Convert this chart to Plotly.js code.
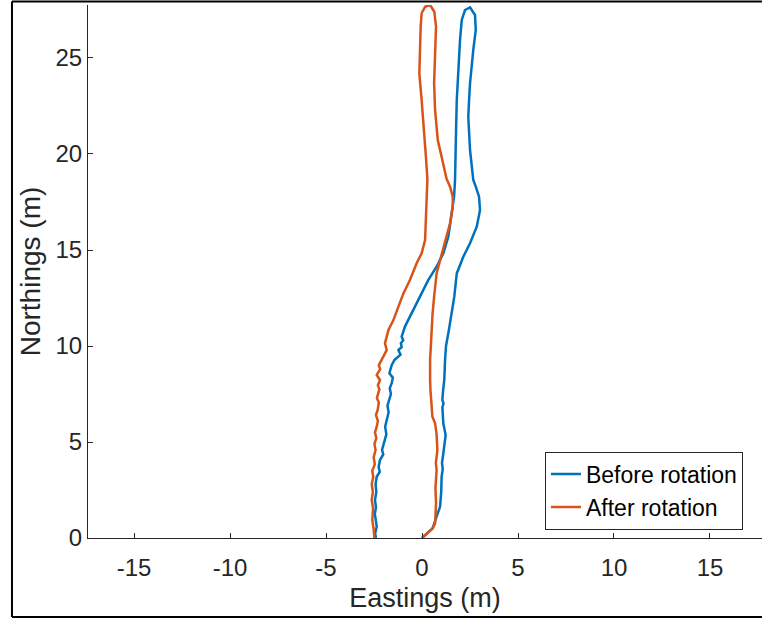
<!DOCTYPE html>
<html>
<head>
<meta charset="utf-8">
<script src="https://cdn.plot.ly/plotly-3.0.1.min.js"></script>
<style>
html,body{margin:0;padding:0;background:#fff;}
#chart{width:762px;height:623px;}
</style>
</head>
<body>
<div id="chart"></div>
<script>
// Before rotation (blue)
const beforeX = [0.00, 0.30, 0.55, 0.76, 0.94, 1.00, 1.02, 1.08, 1.04, 1.11, 1.18, 1.23, 1.11, 1.08, 1.06, 1.12, 1.06, 1.10, 1.16, 1.20, 1.25, 1.40, 1.55, 1.68, 1.81, 2.15, 2.50, 2.85, 3.02, 2.97, 2.80, 2.67, 2.50, 2.41, 2.45, 2.50, 2.67, 2.80, 2.76, 2.50, 2.24, 2.07, 1.98, 1.89, 1.81, 1.77, 1.75, 1.72, 1.67, 1.55, 1.37, 1.11, 0.76, 0.33, -0.02, -0.36, -0.63, -0.89, -1.06, -0.98, -1.10, -1.06, -1.23, -1.12, -1.44, -1.58, -1.70, -1.52, -1.58, -1.68, -1.62, -1.72, -1.80, -1.74, -1.84, -1.92, -1.86, -2.01, -2.08, -2.02, -2.19, -2.26, -2.20, -2.36, -2.42, -2.38, -2.45, -2.40, -2.46, -2.41, -2.36, -2.44, -2.40];
const beforeY = [0.00, 0.25, 0.50, 1.11, 1.63, 2.40, 3.19, 3.60, 3.90, 4.41, 4.90, 5.36, 5.97, 6.40, 6.80, 7.00, 7.19, 7.70, 8.23, 9.27, 10.00, 10.83, 11.70, 12.57, 13.78, 14.65, 15.35, 16.21, 17.08, 17.78, 18.30, 18.65, 20.21, 21.94, 22.80, 23.68, 25.42, 26.46, 27.24, 27.64, 27.50, 26.98, 25.94, 24.55, 22.81, 21.08, 19.69, 18.65, 17.78, 16.91, 15.69, 14.83, 14.13, 13.44, 12.74, 12.05, 11.53, 11.01, 10.49, 10.30, 10.14, 9.95, 9.79, 9.55, 9.27, 9.00, 8.58, 8.35, 8.06, 7.80, 7.50, 7.19, 6.90, 6.55, 6.15, 5.80, 5.40, 4.93, 4.60, 4.35, 4.06, 3.70, 3.45, 3.19, 2.80, 2.40, 1.98, 1.60, 1.25, 0.94, 0.60, 0.24, 0.00];

// After rotation (orange)
const afterX = [0.00, 0.30, 0.55, 0.68, 0.72, 0.73, 0.70, 0.76, 0.72, 0.74, 0.80, 0.76, 0.68, 0.54, 0.50, 0.47, 0.44, 0.42, 0.42, 0.46, 0.50, 0.55, 0.63, 0.70, 0.76, 0.99, 1.23, 1.46, 1.60, 1.60, 1.46, 1.28, 1.02, 0.82, 0.68, 0.63, 0.66, 0.68, 0.73, 0.64, 0.42, 0.16, -0.02, -0.07, -0.10, -0.14, -0.02, 0.10, 0.19, 0.28, 0.21, 0.16, -0.02, -0.28, -0.63, -0.97, -1.23, -1.49, -1.75, -1.84, -1.93, -1.84, -2.10, -2.25, -2.18, -2.36, -2.19, -2.30, -2.22, -2.27, -2.35, -2.25, -2.31, -2.40, -2.30, -2.36, -2.45, -2.38, -2.48, -2.42, -2.52, -2.46, -2.59, -2.54, -2.62, -2.56, -2.62, -2.55, -2.59, -2.52, -2.48];
const afterY = [0.00, 0.25, 0.50, 0.76, 1.30, 1.80, 2.60, 3.54, 3.90, 4.20, 4.58, 5.40, 5.97, 6.32, 6.80, 7.19, 7.70, 8.23, 9.27, 10.00, 10.83, 11.70, 12.57, 13.20, 13.78, 14.65, 15.52, 16.39, 17.26, 17.78, 18.30, 18.70, 19.86, 20.73, 22.29, 23.68, 24.60, 25.42, 26.63, 27.41, 27.76, 27.67, 27.33, 26.63, 25.42, 24.20, 22.81, 21.42, 20.03, 18.70, 16.91, 15.52, 14.83, 14.31, 13.44, 12.74, 12.05, 11.35, 10.83, 10.49, 10.14, 9.79, 9.27, 9.00, 8.80, 8.49, 8.23, 7.95, 7.75, 7.54, 7.30, 7.05, 6.67, 6.40, 6.10, 5.80, 5.50, 5.20, 4.90, 4.58, 4.20, 3.85, 3.50, 3.19, 2.80, 2.40, 1.98, 1.55, 0.94, 0.45, 0.00];

const xTicks = [-15, -10, -5, 0, 5, 10, 15];
const yTicks = [0, 5, 10, 15, 20, 25];

const axisColor = '#262626';
const traces = [
  {x: beforeX, y: beforeY, type: 'scatter', mode: 'lines', name: 'Before rotation',
   line: {color: '#0072BD', width: 2.5}},
  {x: afterX, y: afterY, type: 'scatter', mode: 'lines', name: 'After rotation',
   line: {color: '#D95319', width: 2.5}}
];

const layout = {
  width: 762, height: 623,
  margin: {l: 88, r: 0, t: 5, b: 85},
  paper_bgcolor: '#fff', plot_bgcolor: '#fff',
  font: {family: 'Arial, "Liberation Sans", sans-serif', color: axisColor},
  showlegend: true,
  xaxis: {
    range: [-17.4, 17.71], tickvals: xTicks, ticktext: xTicks.map(String),
    showline: true, linecolor: axisColor, linewidth: 1, mirror: false,
    ticks: 'inside', ticklen: 5, tickcolor: axisColor, tickwidth: 1,
    ticklabelstandoff: 8,
    showgrid: false, zeroline: false, tickfont: {size: 24, color: axisColor},
    title: {text: 'Eastings (m)', font: {size: 27, color: axisColor}, standoff: 8}
  },
  yaxis: {
    range: [0, 27.76], tickvals: yTicks, ticktext: yTicks.map(String),
    showline: true, linecolor: axisColor, linewidth: 1, mirror: false,
    ticks: 'inside', ticklen: 5, tickcolor: axisColor, tickwidth: 1,
    showgrid: false, zeroline: false, tickfont: {size: 24, color: axisColor},
    title: {text: 'Northings (m)', font: {size: 28, color: axisColor}, standoff: 6}
  },
  legend: {
    x: 0.678, y: 0.162, xanchor: 'left', yanchor: 'top',
    bgcolor: '#fff', bordercolor: axisColor, borderwidth: 1,
    font: {size: 23, color: '#000'}, tracegroupgap: 0,
    itemwidth: 30
  },
  shapes: [
    {type: 'line', xref: 'paper', yref: 'paper', x0: -0.1128, x1: -0.1128, y0: 1.0066, y1: -0.148, line: {color: '#000', width: 2}},
    {type: 'line', xref: 'paper', yref: 'paper', x0: -0.1128, x1: 1.01, y0: 1.0066, y1: 1.0066, line: {color: '#000', width: 2}},
    {type: 'line', xref: 'paper', yref: 'paper', x0: -0.1128, x1: 1.01, y0: -0.148, y1: -0.148, line: {color: '#000', width: 2}}
  ]
};

Plotly.newPlot('chart', traces, layout, {staticPlot: true, displayModeBar: false});
</script>
</body>
</html>
